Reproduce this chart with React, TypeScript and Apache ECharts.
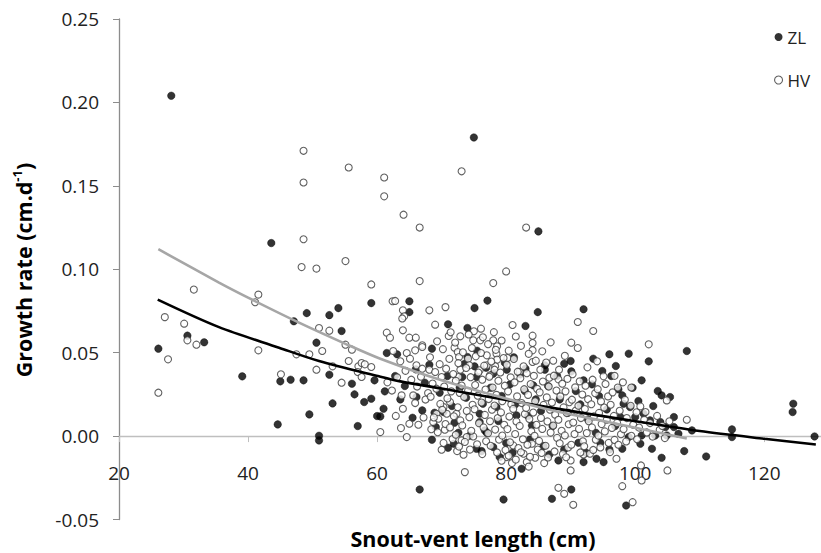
import React, { useEffect, useRef } from "react";
import * as echarts from "echarts";

const FONT = '"Open Sans", "Liberation Sans", sans-serif';

const xTicks = [20, 40, 60, 80, 100, 120];
const yTicks = [-0.05, 0, 0.05, 0.1, 0.15, 0.2, 0.25];

// ZL growth observations [snout-vent length (cm), growth rate (cm/d)]
const zlPoints: number[][] = [
  [28.1, 0.204], [43.6, 0.1157], [75.0, 0.179], [85.0, 0.1227],
  [26.1, 0.0524], [30.6, 0.0602], [33.2, 0.0562], [39.1, 0.0358], [47.1, 0.0688], [49.1, 0.0737],
  [52.6, 0.0725], [54.0, 0.0767], [54.5, 0.063], [50.6, 0.056], [45.0, 0.0328], [46.6, 0.0338],
  [48.6, 0.0334], [52.6, 0.0368], [56.1, 0.0314], [56.5, 0.025], [58.0, 0.0204], [59.1, 0.0224],
  [53.1, 0.0196], [49.5, 0.013], [44.6, 0.007], [57.0, 0.006], [51.0, 0.0002], [51.0, -0.0026],
  [59.1, 0.0797], [59.6, 0.0334], [60.0, 0.012], [61.0, 0.0164], [61.2, 0.0268], [63.6, 0.022],
  [66.6, -0.032], [65.0, 0.0808], [65.0, 0.0743], [75.1, 0.0767], [77.1, 0.0812], [84.9, 0.0743],
  [71.0, 0.067], [74.0, 0.0648], [83.0, 0.066], [68.5, 0.0524], [75.5, 0.0512], [81.2, 0.0472],
  [61.5, 0.0498], [63.1, 0.049], [68.1, 0.0428], [73.6, 0.0434], [74.0, 0.0474], [75.1, 0.0418],
  [80.1, 0.0398], [83.0, 0.0404], [73.2, 0.0354], [75.4, 0.0354], [78.0, 0.0374],
  [60.5, 0.0118], [66.1, 0.0234], [67.0, 0.0154], [68.5, -0.0022], [69.1, 0.0054], [70.3, 0.0144],
  [72.6, 0.002], [71.0, -0.007], [71.9, -0.0046], [75.4, -0.0076], [78.0, -0.0066], [79.6, -0.038],
  [79.0, -0.0126], [80.0, -0.0042], [82.4, -0.0196], [76.7, 0.0034], [75.9, 0.0084], [84.2, 0.0304],
  [81.6, 0.0124], [84.0, 0.0064], [74.4, 0.0004], [75.9, 0.0134], [76.4, 0.0194], [78.5, 0.0174],
  [92.0, 0.076], [108.0, 0.051], [93.5, 0.0464], [96.0, 0.049], [99.0, 0.0494], [102.1, 0.0448],
  [89.0, 0.0434], [86.0, 0.0424], [86.0, 0.0398], [90.1, 0.0388], [92.0, 0.0334], [101.0, 0.0334],
  [104.1, 0.0244], [105.4, 0.0234], [106.0, 0.0114], [98.0, 0.0244], [98.2, 0.0194], [99.2, 0.0174],
  [97.7, 0.0114], [100.0, 0.0114], [101.3, 0.0134], [102.3, 0.0094], [103.9, 0.0084], [104.7, 0.0054],
  [106.0, 0.0054], [106.7, 0.0014], [108.8, 0.0034], [99.0, -0.0006], [100.8, -0.0046], [102.6, -0.0076],
  [101.0, 0.0004], [103.1, 0.0004], [104.9, 0.0004], [107.6, -0.009], [104.1, -0.013], [98.6, -0.0416],
  [87.1, -0.0376], [90.1, -0.032], [88.1, -0.0146], [92.0, -0.0156], [94.0, -0.0136], [95.1, -0.0156],
  [98.0, -0.0076], [111.0, -0.0122], [115.0, 0.004], [115.0, -0.0006], [124.5, 0.0194], [124.4, 0.0144],
  [127.8, -0.0002],
  [86.5, 0.030], [88.3, 0.022], [89.6, 0.014], [87.2, 0.006], [90.8, 0.027], [91.5, 0.019], [92.7, 0.010],
  [93.3, 0.031], [94.4, 0.024], [95.6, 0.016], [96.3, 0.036], [96.9, 0.006], [97.4, 0.028], [93.9, 0.002],
  [91.2, -0.004], [89.0, -0.008], [86.7, -0.011], [85.4, 0.015], [84.6, 0.022], [82.9, 0.027], [81.4, 0.019],
  [80.6, 0.031], [79.3, 0.024], [78.8, 0.009], [77.6, 0.029], [76.9, 0.041], [79.8, 0.044], [82.2, 0.037],
  [83.7, -0.002], [85.8, -0.006], [87.9, 0.036], [90.0, 0.045], [94.9, 0.039], [97.0, 0.042], [99.6, 0.029],
  [100.5, 0.021], [102.8, 0.018], [103.5, 0.027], [96.0, -0.008], [94.6, -0.004], [92.4, -0.010],
  [81.0, -0.010], [83.4, 0.012], [72.8, 0.029], [70.9, 0.036], [69.7, 0.026], [71.6, 0.018], [73.8, 0.023],
  [67.4, 0.032], [66.0, 0.040], [64.3, 0.030], [62.8, 0.036], [65.5, 0.011], [68.9, 0.014], [72.0, 0.008],
  [77.0, 0.002], [76.2, -0.009]
];

// HV growth observations [snout-vent length (cm), growth rate (cm/d)]
const hvPoints: number[][] = [
  [48.6, 0.171], [48.6, 0.152], [48.6, 0.118], [55.6, 0.161], [61.1, 0.155], [61.1, 0.1437], [64.1, 0.1327],
  [66.6, 0.125], [73.1, 0.1587], [83.1, 0.125],
  [48.3, 0.1013], [50.6, 0.1004], [55.1, 0.1049], [59.1, 0.0909], [31.6, 0.0878], [41.6, 0.0848], [41.1, 0.0802],
  [27.1, 0.0713], [30.1, 0.0674], [30.6, 0.0574], [32.0, 0.0548], [27.6, 0.046], [26.1, 0.026], [41.6, 0.0514],
  [51.0, 0.0648], [52.6, 0.0632], [55.1, 0.0548], [56.1, 0.0518], [51.5, 0.051], [47.5, 0.049], [49.5, 0.049],
  [55.6, 0.045], [53.1, 0.0418], [50.6, 0.0398], [57.1, 0.0418], [57.6, 0.0438], [58.1, 0.043], [59.1, 0.0414],
  [57.0, 0.0384], [57.6, 0.0354], [45.1, 0.037], [54.5, 0.032], [60.5, 0.0024],
  [64.6, -0.0006], [65.0, 0.0074], [64.0, 0.0164],
  [66.6, 0.0929], [78.0, 0.0917], [80.0, 0.0987], [62.4, 0.0808], [62.8, 0.081], [64.0, 0.0754], [64.2, 0.0718],
  [63.9, 0.0705], [68.1, 0.0754], [70.6, 0.0773], [69.0, 0.0668], [76.1, 0.0644], [75.0, 0.0628], [81.0, 0.0666],
  [84.1, 0.0602], [84.1, 0.0558], [84.1, 0.0514], [84.1, 0.0444], [71.1, 0.060], [61.5, 0.062], [62.0, 0.059],
  [64.0, 0.0634], [65.0, 0.059], [66.0, 0.059], [72.9, 0.0598], [74.9, 0.0574], [76.0, 0.0574], [78.0, 0.0574],
  [67.0, 0.0544], [72.0, 0.053], [72.5, 0.0504], [72.7, 0.0474], [78.6, 0.0538], [78.5, 0.0494], [78.6, 0.0458],
  [77.0, 0.0484], [80.2, 0.0468], [62.5, 0.051], [64.6, 0.0498], [65.9, 0.0514], [67.0, 0.0534], [63.6, 0.0448],
  [65.1, 0.0464], [66.1, 0.0424], [67.0, 0.0404], [68.1, 0.0398], [69.0, 0.0384], [70.0, 0.0354], [74.1, 0.0464],
  [74.3, 0.0424], [77.0, 0.0424], [78.3, 0.0418], [75.9, 0.0394], [82.1, 0.0384], [72.9, 0.0398], [72.6, 0.0354],
  [77.5, 0.0364],
  [63.8, 0.0244], [65.6, 0.0244], [65.9, 0.0198], [67.9, 0.0258], [69.2, 0.0134], [68.7, 0.0084], [69.5, 0.0104],
  [70.3, 0.0174], [71.3, 0.0204], [70.8, 0.0134], [72.3, 0.0134], [70.5, 0.0038], [70.0, -0.0082], [72.4, -0.009],
  [73.1, -0.0026], [73.9, -0.0006], [74.9, -0.0002], [73.6, -0.0216], [80.1, -0.0126], [80.9, -0.0162],
  [82.7, -0.0106], [83.2, -0.0156], [84.5, -0.013], [84.0, -0.0046], [81.1, -0.0056],
  [91.1, 0.0684], [93.5, 0.063], [90.1, 0.056], [91.1, 0.0528], [102.1, 0.055], [86.7, 0.035], [88.1, 0.034],
  [95.1, 0.0358], [104.9, 0.0214], [108.0, 0.0098], [100.8, 0.0178], [101.6, 0.0144], [105.0, -0.0206],
  [100.9, -0.0176], [101.0, -0.0266], [98.0, -0.030], [99.6, -0.0396], [88.1, -0.031], [89.0, -0.0346],
  [90.4, -0.0412], [90.0, -0.0146], [90.0, -0.0206], [92.0, -0.011], [93.0, -0.0106], [96.1, -0.0096],
  [97.1, -0.0136],
  [61.6, 0.0322], [62.3, 0.0273], [63.1, 0.0352], [64.4, 0.0391], [65.3, 0.0338], [66.2, 0.0297], [66.8, 0.0356],
  [67.5, 0.0219], [67.2, 0.0112], [66.4, 0.0068], [62.9, 0.0121], [63.7, 0.0048],
  [87.3, 0.0452], [89.1, 0.0481], [92.6, 0.0412], [94.1, 0.0448], [96.8, 0.0361], [98.1, 0.0322], [99.4, 0.0291],
  [85.6, 0.0508], [86.9, 0.0562],
  [68.2, 0.0472], [68.6, 0.0315], [68.3, 0.0236], [68.8, 0.0112], [68.4, 0.0041],
  [69.3, 0.0568], [69.7, 0.0431], [69.2, 0.0284], [69.8, 0.0193], [69.4, 0.0023],
  [70.2, 0.0521], [70.7, 0.0404], [70.4, 0.0297], [70.9, 0.0226], [70.1, 0.0158], [70.6, 0.0072], [70.3, -0.0041],
  [71.4, 0.0622], [71.2, 0.0463], [71.8, 0.0372], [71.5, 0.0268], [71.9, 0.0119], [71.3, 0.0052], [71.7, -0.0018],
  [72.1, 0.0561], [72.6, 0.0437], [72.2, 0.0331], [72.8, 0.0259], [72.5, 0.0173], [72.9, 0.0094], [72.2, 0.0008],
  [72.7, -0.0063],
  [73.3, 0.0502], [73.8, 0.0408], [73.1, 0.0303], [73.5, 0.0234], [73.9, 0.0151], [73.2, 0.0064], [73.6, -0.0035],
  [73.4, -0.0112],
  [74.2, 0.0609], [74.7, 0.0528], [74.5, 0.0353], [74.1, 0.0271], [74.8, 0.0188], [74.3, 0.0113], [74.6, 0.0032],
  [74.4, -0.0081],
  [75.3, 0.0478], [75.7, 0.0381], [75.2, 0.0306], [75.6, 0.0242], [75.1, 0.0161], [75.8, 0.0077], [75.5, -0.0049],
  [76.4, 0.0592], [76.1, 0.0498], [76.6, 0.0422], [76.3, 0.0338], [76.8, 0.0279], [76.2, 0.0201], [76.7, 0.0127],
  [76.5, 0.0052], [76.9, -0.0031], [76.3, -0.0108],
  [77.2, 0.0551], [77.7, 0.0447], [77.4, 0.0356], [77.9, 0.0291], [77.3, 0.0222], [77.8, 0.0158], [77.5, 0.0089],
  [77.2, 0.0017], [77.6, -0.0058],
  [78.1, 0.0623], [78.4, 0.0517], [78.2, 0.0398], [78.8, 0.0332], [78.5, 0.0247], [78.2, 0.0183], [78.7, 0.0108],
  [78.3, 0.0039], [78.9, -0.0021], [78.6, -0.0098],
  [79.3, 0.0573], [79.6, 0.0468], [79.1, 0.0381], [79.8, 0.0302], [79.4, 0.0209], [79.2, 0.0142], [79.7, 0.0068],
  [79.4, 0.0003], [79.9, -0.0083], [79.3, -0.0148],
  [80.4, 0.0512], [80.1, 0.0427], [80.7, 0.0352], [80.3, 0.0268], [80.8, 0.0191], [80.5, 0.0117], [80.2, 0.0042],
  [80.6, -0.0037], [80.4, -0.0118],
  [81.5, 0.0597], [81.2, 0.0462], [81.8, 0.0386], [81.3, 0.0322], [81.7, 0.0238], [81.1, 0.0163], [81.6, 0.0088],
  [81.4, 0.0012], [81.9, -0.0072], [81.5, -0.0141],
  [82.3, 0.0541], [82.7, 0.0418], [82.2, 0.0347], [82.8, 0.0281], [82.4, 0.0198], [82.9, 0.0132], [82.1, 0.0061],
  [82.6, -0.0019], [82.3, -0.0097],
  [83.5, 0.0493], [83.2, 0.0377], [83.8, 0.0312], [83.4, 0.0247], [83.1, 0.0168], [83.6, 0.0102], [83.9, 0.0029],
  [83.3, -0.0052], [83.7, -0.0124], [83.5, -0.0183],
  [84.6, 0.0452], [84.3, 0.0361], [84.8, 0.0283], [84.5, 0.0209], [84.2, 0.0141], [84.7, 0.0068], [84.4, 0.0002],
  [84.9, -0.0081],
  [85.3, 0.0398], [85.7, 0.0327], [85.2, 0.0262], [85.8, 0.0187], [85.4, 0.0109], [85.6, 0.0043], [85.1, -0.0029],
  [85.5, -0.0101], [85.9, -0.0162],
  [86.2, 0.0441], [86.6, 0.0297], [86.3, 0.0232], [86.8, 0.0158], [86.4, 0.0088], [86.9, 0.0021], [86.1, -0.0058],
  [86.5, -0.0128],
  [87.4, 0.0362], [87.8, 0.0273], [87.1, 0.0201], [87.6, 0.0128], [87.3, 0.0063], [87.9, -0.0011], [87.5, -0.0092],
  [88.2, 0.0398], [88.7, 0.0314], [88.4, 0.0238], [88.9, 0.0172], [88.1, 0.0098], [88.6, 0.0032], [88.3, -0.0043],
  [88.8, -0.0108],
  [89.5, 0.0343], [89.2, 0.0268], [89.8, 0.0203], [89.4, 0.0138], [89.7, 0.0071], [89.1, 0.0004], [89.6, -0.0068],
  [89.3, -0.0127],
  [90.3, 0.0371], [90.7, 0.0292], [90.2, 0.0218], [90.8, 0.0153], [90.4, 0.0081], [90.6, 0.0012], [90.1, -0.0052],
  [91.4, 0.0328], [91.8, 0.0249], [91.2, 0.0182], [91.6, 0.0108], [91.3, 0.0043], [91.9, -0.0031], [91.5, -0.0098],
  [92.3, 0.0302], [92.7, 0.0221], [92.2, 0.0162], [92.8, 0.0089], [92.5, 0.0018], [92.1, -0.0061],
  [93.4, 0.0338], [93.8, 0.0257], [93.2, 0.0191], [93.6, 0.0118], [93.3, 0.0052], [93.9, -0.0022], [93.5, -0.0083],
  [94.2, 0.0281], [94.7, 0.0208], [94.4, 0.0139], [94.8, 0.0072], [94.3, 0.0003], [94.6, -0.0068],
  [95.4, 0.0312], [95.8, 0.0238], [95.2, 0.0171], [95.6, 0.0098], [95.3, 0.0028], [95.9, -0.0041],
  [96.5, 0.0262], [96.2, 0.0188], [96.7, 0.0121], [96.4, 0.0049], [96.8, -0.0023],
  [97.3, 0.0291], [97.6, 0.0152], [97.2, 0.0079], [97.8, 0.0011], [97.4, -0.0052],
  [98.4, 0.0218], [98.7, 0.0108], [98.2, 0.0041], [98.6, -0.0032],
  [99.3, 0.0182], [99.7, 0.0068], [99.4, 0.0002],
  [100.2, 0.0143], [100.6, 0.0051], [100.3, -0.0019],
  [101.4, 0.0098], [101.8, 0.0022], [102.3, 0.0078], [102.7, -0.0003], [103.4, 0.0121], [103.8, 0.0038],
  [104.2, 0.0061], [104.6, -0.0012], [105.3, 0.0089]
];

// trend curves
const zlTrend: number[][] = [
  [26, 0.0818], [35.5, 0.0653], [44.8, 0.053], [51, 0.045], [60.3, 0.0358], [63.6, 0.0328], [70, 0.0285],
  [84.8, 0.0184], [100.8, 0.0084], [110, 0.003], [120, -0.0016], [128, -0.005]
];
const hvTrend: number[][] = [
  [26.1, 0.112], [35.5, 0.092], [40, 0.083], [47.9, 0.068], [55.1, 0.0553], [60.4, 0.0465], [70, 0.0335],
  [85.3, 0.0172], [95.6, 0.0086], [108, -0.0015]
];

const GRID_TOP = 19;
const GRID_H = 500.5;
const Y_MIN = yTicks[0];
const Y_MAX = yTicks[yTicks.length - 1];

export default function App() {
  const ref = useRef<HTMLDivElement>(null);
  useEffect(() => {
    if (!ref.current) return;
    const chart = echarts.init(ref.current, null, { renderer: "svg" });
    // x axis sits on the zero line: shift it up from the grid bottom
    const zeroOffset = -((0 - Y_MIN) / (Y_MAX - Y_MIN)) * GRID_H;
    chart.setOption({
      animation: false,
      backgroundColor: "#fff",
      grid: {
        left: 119,
        top: GRID_TOP,
        width: 702,
        height: GRID_H,
        containLabel: false,
        outerBoundsMode: "none"
      },
      legend: {
        data: [
          { name: "ZL", icon: "circle", itemStyle: { color: "#000", borderColor: "#000", borderWidth: 0 } },
          { name: "HV", icon: "circle", itemStyle: { color: "#fff", borderColor: "#3a3a3a", borderWidth: 1.1 } }
        ],
        orient: "vertical",
        left: 774,
        top: 28.5,
        itemWidth: 8,
        itemHeight: 8,
        itemGap: 26,
        padding: 0,
        textStyle: { fontFamily: FONT, fontSize: 17, color: "#222", lineHeight: 17 }
      },
      xAxis: {
        type: "value",
        position: "bottom",
        offset: zeroOffset,
        min: 20,
        max: 128.8,
        interval: 20,
        axisLine: { onZero: false, lineStyle: { color: "#bfbfbf", width: 1.3 } },
        axisTick: { show: true, length: 6, lineStyle: { color: "#bfbfbf", width: 1 } },
        axisLabel: {
          margin: 27,
          fontFamily: FONT,
          fontSize: 19,
          color: "#222",
          showMaxLabel: false,
          formatter: (v: number) => (xTicks.indexOf(Math.round(v * 1000) / 1000) >= 0 ? String(v) : "")
        },
        splitLine: { show: false }
      },
      yAxis: {
        type: "value",
        min: Y_MIN,
        max: Y_MAX,
        interval: 0.05,
        axisLine: { show: true, onZero: false, lineStyle: { color: "#8c8c8c", width: 1.3 } },
        axisTick: { show: true, length: 6, lineStyle: { color: "#8c8c8c", width: 1 } },
        axisLabel: {
          margin: 20,
          fontFamily: FONT,
          fontSize: 19,
          color: "#222",
          formatter: (v: number) => v.toFixed(2)
        },
        splitLine: { show: false }
      },
      graphic: [
        {
          type: "text",
          x: 473,
          y: 538,
          style: {
            text: "Snout-vent length (cm)",
            font: `bold 21.5px ${FONT}`,
            fill: "#000",
            textAlign: "center",
            textVerticalAlign: "middle"
          }
        },
        {
          type: "text",
          x: 23,
          y: 270,
          rotation: Math.PI / 2,
          style: {
            text: "{a|Growth rate (cm.d}{b|-1}{a|)}",
            textAlign: "center",
            textVerticalAlign: "middle",
            fill: "#000",
            rich: {
              a: { fontFamily: FONT, fontWeight: "bold", fontSize: 21.5, lineHeight: 26, fill: "#000" },
              b: { fontFamily: FONT, fontWeight: "bold", fontSize: 13, lineHeight: 26, verticalAlign: "top", padding: [0, 0, 9, 0], fill: "#000" }
            }
          }
        }
      ],
      series: [
        {
          name: "ZL",
          type: "scatter",
          data: zlPoints,
          symbol: "circle",
          symbolSize: 7.5,
          itemStyle: { color: "#000", borderColor: "#000", borderWidth: 0.5 },
          z: 2
        },
        {
          name: "HV",
          type: "scatter",
          data: hvPoints,
          symbol: "circle",
          symbolSize: 7,
          itemStyle: { color: "#fff", borderColor: "#3a3a3a", borderWidth: 1.1 },
          z: 3
        },
        {
          name: "ZL trend",
          type: "line",
          data: zlTrend,
          smooth: 0.3,
          showSymbol: false,
          lineStyle: { color: "#000", width: 2.6 },
          z: 4
        },
        {
          name: "HV trend",
          type: "line",
          data: hvTrend,
          smooth: 0.3,
          showSymbol: false,
          lineStyle: { color: "#a6a6a6", width: 2.6 },
          z: 5
        }
      ]
    });
    return () => chart.dispose();
  }, []);
  return <div ref={ref} style={{ width: 821, height: 553, position: "absolute", left: 0, top: 0 }} />;
}
